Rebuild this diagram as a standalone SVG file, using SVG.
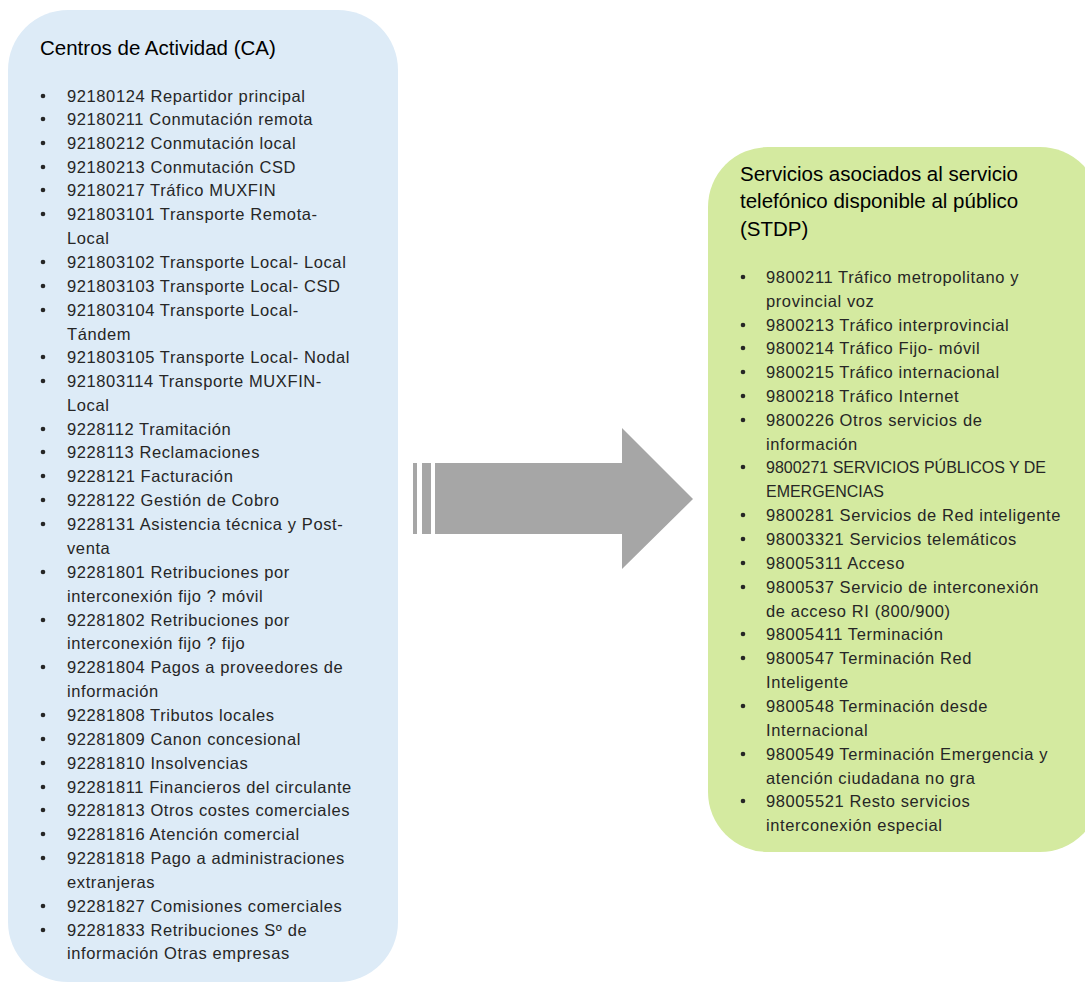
<svg xmlns="http://www.w3.org/2000/svg" width="1085" height="983" viewBox="0 0 1085 983">
<style>
.t{font-family:"Liberation Sans",Arial,sans-serif;font-size:20.5px;fill:#000}
.i{font-family:"Liberation Sans",Arial,sans-serif;font-size:16.5px;letter-spacing:0.6px;fill:#262626}
.b{fill:#262626}
</style>
<rect width="1085" height="983" fill="#fff"/>
<g id="ca">
<rect x="8" y="10" width="390" height="972" rx="60" fill="#ddebf7"/>
<text class="t" x="40" y="55">Centros de Actividad (CA)</text>
<g class="b">
<circle cx="43" cy="96" r="2.3"/><circle cx="43" cy="119" r="2.3"/><circle cx="43" cy="143" r="2.3"/><circle cx="43" cy="167" r="2.3"/><circle cx="43" cy="190" r="2.3"/><circle cx="43" cy="214" r="2.3"/><circle cx="43" cy="262" r="2.3"/><circle cx="43" cy="286" r="2.3"/><circle cx="43" cy="310" r="2.3"/><circle cx="43" cy="357" r="2.3"/><circle cx="43" cy="381" r="2.3"/><circle cx="43" cy="429" r="2.3"/><circle cx="43" cy="452" r="2.3"/><circle cx="43" cy="476" r="2.3"/><circle cx="43" cy="500" r="2.3"/><circle cx="43" cy="524" r="2.3"/><circle cx="43" cy="572" r="2.3"/><circle cx="43" cy="620" r="2.3"/><circle cx="43" cy="667" r="2.3"/><circle cx="43" cy="715" r="2.3"/><circle cx="43" cy="739" r="2.3"/><circle cx="43" cy="763" r="2.3"/><circle cx="43" cy="787" r="2.3"/><circle cx="43" cy="810" r="2.3"/><circle cx="43" cy="834" r="2.3"/><circle cx="43" cy="858" r="2.3"/><circle cx="43" cy="906" r="2.3"/><circle cx="43" cy="930" r="2.3"/>
</g>
<text class="i" x="67" y="102">92180124 Repartidor principal</text>
<text class="i" x="67" y="125">92180211 Conmutación remota</text>
<text class="i" x="67" y="149">92180212 Conmutación local</text>
<text class="i" x="67" y="173">92180213 Conmutación CSD</text>
<text class="i" x="67" y="196">92180217 Tráfico MUXFIN</text>
<text class="i" x="67" y="220">921803101 Transporte Remota-</text>
<text class="i" x="67" y="244">Local</text>
<text class="i" x="67" y="268">921803102 Transporte Local- Local</text>
<text class="i" x="67" y="292">921803103 Transporte Local- CSD</text>
<text class="i" x="67" y="316">921803104 Transporte Local-</text>
<text class="i" x="67" y="340">Tándem</text>
<text class="i" x="67" y="363">921803105 Transporte Local- Nodal</text>
<text class="i" x="67" y="387">921803114 Transporte MUXFIN-</text>
<text class="i" x="67" y="411">Local</text>
<text class="i" x="67" y="435">9228112 Tramitación</text>
<text class="i" x="67" y="458">9228113 Reclamaciones</text>
<text class="i" x="67" y="482">9228121 Facturación</text>
<text class="i" x="67" y="506">9228122 Gestión de Cobro</text>
<text class="i" x="67" y="530">9228131 Asistencia técnica y Post-</text>
<text class="i" x="67" y="554">venta</text>
<text class="i" x="67" y="578">92281801 Retribuciones por</text>
<text class="i" x="67" y="602">interconexión fijo ? móvil</text>
<text class="i" x="67" y="626">92281802 Retribuciones por</text>
<text class="i" x="67" y="649">interconexión fijo ? fijo</text>
<text class="i" x="67" y="673">92281804 Pagos a proveedores de</text>
<text class="i" x="67" y="697">información</text>
<text class="i" x="67" y="721">92281808 Tributos locales</text>
<text class="i" x="67" y="745">92281809 Canon concesional</text>
<text class="i" x="67" y="769">92281810 Insolvencias</text>
<text class="i" x="67" y="793">92281811 Financieros del circulante</text>
<text class="i" x="67" y="816">92281813 Otros costes comerciales</text>
<text class="i" x="67" y="840">92281816 Atención comercial</text>
<text class="i" x="67" y="864">92281818 Pago a administraciones</text>
<text class="i" x="67" y="888">extranjeras</text>
<text class="i" x="67" y="912">92281827 Comisiones comerciales</text>
<text class="i" x="67" y="936">92281833 Retribuciones Sº de</text>
<text class="i" x="67" y="959">información Otras empresas</text>
</g>
<g id="connectors">
<rect x="413" y="463" width="4" height="71" fill="#a6a6a6"/>
<rect x="422" y="463" width="9" height="71" fill="#a6a6a6"/>
<polygon points="435,463 622,463 622,428 693,499 622,569 622,534 435,534" fill="#a6a6a6"/>
</g>
<g id="stdp">
<rect x="708" y="147" width="392" height="705" rx="60" fill="#d4eaa0"/>
<text class="t" x="740" y="181">Servicios asociados al servicio</text>
<text class="t" x="740" y="208">telefónico disponible al público</text>
<text class="t" x="740" y="236">(STDP)</text>
<g class="b">
<circle cx="743" cy="277" r="2.3"/><circle cx="743" cy="325" r="2.3"/><circle cx="743" cy="348" r="2.3"/><circle cx="743" cy="372" r="2.3"/><circle cx="743" cy="396" r="2.3"/><circle cx="743" cy="420" r="2.3"/><circle cx="743" cy="467" r="2.3"/><circle cx="743" cy="515" r="2.3"/><circle cx="743" cy="539" r="2.3"/><circle cx="743" cy="563" r="2.3"/><circle cx="743" cy="587" r="2.3"/><circle cx="743" cy="634" r="2.3"/><circle cx="743" cy="658" r="2.3"/><circle cx="743" cy="706" r="2.3"/><circle cx="743" cy="754" r="2.3"/><circle cx="743" cy="801" r="2.3"/>
</g>
<text class="i" x="766" y="283">9800211 Tráfico metropolitano y</text>
<text class="i" x="766" y="307">provincial voz</text>
<text class="i" x="766" y="331">9800213 Tráfico interprovincial</text>
<text class="i" x="766" y="354">9800214 Tráfico Fijo- móvil</text>
<text class="i" x="766" y="378">9800215 Tráfico internacional</text>
<text class="i" x="766" y="402">9800218 Tráfico Internet</text>
<text class="i" x="766" y="426">9800226 Otros servicios de</text>
<text class="i" x="766" y="450">información</text>
<text class="i" x="766" y="473" style="letter-spacing:0" textLength="280" lengthAdjust="spacingAndGlyphs">9800271 SERVICIOS PÚBLICOS Y DE</text>
<text class="i" x="766" y="497" style="letter-spacing:0" textLength="118" lengthAdjust="spacingAndGlyphs">EMERGENCIAS</text>
<text class="i" x="766" y="521">9800281 Servicios de Red inteligente</text>
<text class="i" x="766" y="545">98003321  Servicios telemáticos</text>
<text class="i" x="766" y="569">98005311 Acceso</text>
<text class="i" x="766" y="593">9800537 Servicio de interconexión</text>
<text class="i" x="766" y="617">de acceso RI (800/900)</text>
<text class="i" x="766" y="640">98005411 Terminación</text>
<text class="i" x="766" y="664">9800547 Terminación Red</text>
<text class="i" x="766" y="688">Inteligente</text>
<text class="i" x="766" y="712">9800548 Terminación desde</text>
<text class="i" x="766" y="736">Internacional</text>
<text class="i" x="766" y="760">9800549 Terminación Emergencia y</text>
<text class="i" x="766" y="784">atención ciudadana no gra</text>
<text class="i" x="766" y="807">98005521 Resto servicios</text>
<text class="i" x="766" y="831">interconexión especial</text>
</g>
</svg>
